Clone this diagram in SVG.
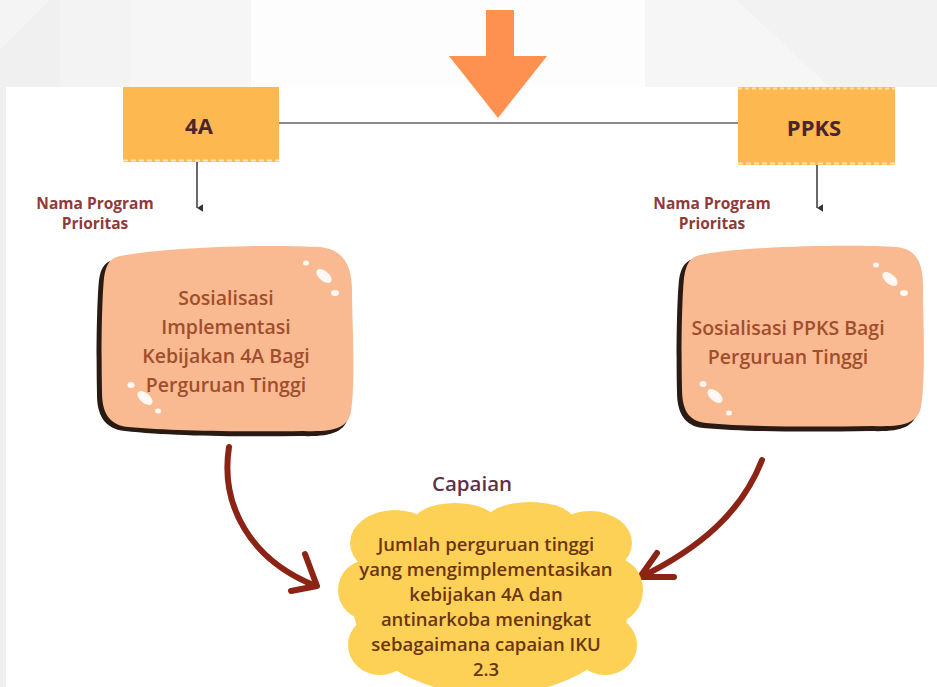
<svg xmlns="http://www.w3.org/2000/svg" width="937" height="687" viewBox="0 0 937 687">
  <defs>
    <style>
      .lbl { font-family: "Open Sans", "Liberation Sans", sans-serif; font-weight: 700; fill: #8e3b3b; font-size: 15.5px; text-anchor: middle; }
      .box { fill: #fdb84f; }
      .boxTxt { font-family: "Open Sans", "Liberation Sans", sans-serif; font-weight: 700; fill: #4b2430; font-size: 22px; text-anchor: middle; }
      .blobTxt { font-family: "Open Sans", "Liberation Sans", sans-serif; font-weight: 600; fill: #a04e2c; font-size: 19.5px; text-anchor: middle; }
      .cloudTxt { font-family: "Open Sans", "Liberation Sans", sans-serif; font-weight: 600; fill: #6a3610; font-size: 18.5px; text-anchor: middle; }
      .blob { fill: #f9ba92; }
      .shadow { fill: #2a1a14; }
      .shine { fill: #ffffff; opacity: 0.9; }
      .curve { fill: none; stroke: #8b2414; stroke-width: 6; stroke-linecap: round; stroke-linejoin: round; }
      .thin { fill: none; stroke: #444; stroke-width: 1.6; }
    </style>
    <marker id="tip" viewBox="0 0 10 10" refX="5" refY="8" markerWidth="8" markerHeight="8" orient="auto-start-reverse" markerUnits="userSpaceOnUse">
      <path d="M0,0 L10,0 L5,8 Z" fill="#333"/>
    </marker>
  </defs>

  <!-- backdrop -->
  <rect x="0" y="0" width="937" height="687" fill="#f0f0f0"/>
  <polygon points="0,0 50,0 0,50" fill="#f4f4f4"/>
  <polygon points="60,0 251,0 251,87 60,87" fill="#f3f3f3"/>
  <polygon points="130,0 251,0 251,87 130,87" fill="#f6f6f6"/>
  <rect x="251" y="0" width="394" height="87" fill="#fdfdfd"/>
  <polygon points="645,0 737,0 830,87 645,87" fill="#f6f6f6"/>
  <polygon points="737,0 937,0 937,87 830,87" fill="#f2f2f2"/>
  <rect x="6" y="87" width="931" height="600" fill="#ffffff"/>

  <!-- big orange arrow at the top -->
  <g id="topArrow">
    <polygon points="486,10 514,10 514,56 547,56 498,118 449,56 486,56" fill="#fe9150"/>
  </g>

  <!-- connectors -->
  <g id="connectors">
    <line x1="279" y1="123" x2="738" y2="123" stroke="#8a8a8a" stroke-width="2"/>
    <line class="thin" x1="197" y1="162" x2="197" y2="208" marker-end="url(#tip)"/>
    <line class="thin" x1="817" y1="165" x2="817" y2="208" marker-end="url(#tip)"/>
    <path class="curve" d="M229,447 C220,505 250,560 316,586"/>
    <path class="curve" d="M305,554 L317,586 L291,591"/>
    <path class="curve" d="M762,460 C742,512 700,548 641,577"/>
    <path class="curve" d="M657,553 L640,577 L674,577"/>
  </g>

  <!-- source boxes -->
  <g id="box4A">
    <rect class="box" x="123" y="87" width="156" height="75"/>
    <line x1="123" y1="160.5" x2="279" y2="160.5" stroke="#fde7b4" stroke-width="2" stroke-dasharray="5 3"/>
    <text class="boxTxt" x="199" y="134">4A</text>
  </g>
  <g id="boxPPKS">
    <rect class="box" x="738" y="87" width="157" height="78"/>
    <line x1="738" y1="88.5" x2="895" y2="88.5" stroke="#fde0a0" stroke-width="2" stroke-dasharray="4 3"/>
    <line x1="738" y1="163.5" x2="895" y2="163.5" stroke="#fde7b4" stroke-width="2" stroke-dasharray="5 3"/>
    <text class="boxTxt" x="814" y="136">PPKS</text>
  </g>

  <!-- labels -->
  <g id="labelLeft">
    <text class="lbl" x="95" y="209">Nama Program</text>
    <text class="lbl" x="95" y="229">Prioritas</text>
  </g>
  <g id="labelRight">
    <text class="lbl" x="712" y="209">Nama Program</text>
    <text class="lbl" x="712" y="229">Prioritas</text>
  </g>

  <!-- program blobs -->
  <g id="programLeft">
    <path class="shadow" d="M117,259 C160,249 270,246 318,249 C345,252 351,272 350,300 C351,340 353,385 349,415 C345,433 330,437 300,436 C240,437 170,436 125,431 C104,429 97,414 97,395 C96,350 97,300 99,280 C101,266 106,261 117,259 Z"/>
    <path class="blob" d="M120,256 C165,247 272,244 320,247 C347,250 353,270 352,298 C353,338 355,383 351,412 C347,429 333,432 303,431 C243,432 173,431 128,427 C108,425 102,411 102,392 C101,348 102,298 104,278 C106,264 110,258 120,256 Z"/>
    <ellipse class="shine" cx="324" cy="276" rx="9" ry="5" transform="rotate(40 324 276)"/>
    <ellipse class="shine" cx="335" cy="293" rx="4" ry="3"/>
    <ellipse class="shine" cx="306" cy="263" rx="3" ry="2.5"/>
    <ellipse class="shine" cx="145" cy="398" rx="9" ry="5" transform="rotate(40 145 398)"/>
    <ellipse class="shine" cx="131" cy="385" rx="3.5" ry="3"/>
    <ellipse class="shine" cx="158" cy="411" rx="3" ry="2.5"/>
    <text class="blobTxt" x="226" y="305">Sosialisasi</text>
    <text class="blobTxt" x="226" y="334">Implementasi</text>
    <text class="blobTxt" x="226" y="363">Kebijakan 4A Bagi</text>
    <text class="blobTxt" x="226" y="392">Perguruan Tinggi</text>
  </g>
  <g id="programRight">
    <path class="shadow" d="M697,258 C740,249 850,247 895,250 C918,253 921,272 920,300 C921,340 922,385 918,410 C914,428 900,432 870,431 C810,432 745,432 703,428 C684,426 677,412 677,392 C676,350 677,300 679,280 C681,266 686,260 697,258 Z"/>
    <path class="blob" d="M700,255 C743,246 852,244 897,247 C921,250 924,269 923,297 C924,337 925,382 921,407 C917,424 903,427 873,426 C813,427 748,427 706,423 C687,421 682,408 682,388 C681,347 682,298 684,278 C686,264 690,257 700,255 Z"/>
    <ellipse class="shine" cx="890" cy="279" rx="9" ry="5" transform="rotate(40 890 279)"/>
    <ellipse class="shine" cx="904" cy="293" rx="4" ry="3"/>
    <ellipse class="shine" cx="876" cy="265" rx="3" ry="2.5"/>
    <ellipse class="shine" cx="715" cy="396" rx="9" ry="5" transform="rotate(40 715 396)"/>
    <ellipse class="shine" cx="703" cy="384" rx="3.5" ry="3"/>
    <ellipse class="shine" cx="729" cy="413" rx="3" ry="2.5"/>
    <text class="blobTxt" x="788" y="335">Sosialisasi PPKS Bagi</text>
    <text class="blobTxt" x="788" y="364">Perguruan Tinggi</text>
  </g>

  <!-- outcome cloud -->
  <g id="outcome">
    <text x="472" y="491" font-family="'Open Sans', 'Liberation Sans', sans-serif" font-weight="600" font-size="20.5" fill="#5b3346" text-anchor="middle">Capaian</text>
    <g fill="#fdd155">
      <ellipse cx="491" cy="605" rx="138" ry="90"/>
      <ellipse cx="395" cy="543" rx="45" ry="33"/>
      <ellipse cx="455" cy="523" rx="42" ry="20"/>
      <ellipse cx="530" cy="522" rx="45" ry="20"/>
      <ellipse cx="590" cy="543" rx="42" ry="32"/>
      <ellipse cx="368" cy="590" rx="30" ry="30"/>
      <ellipse cx="615" cy="590" rx="28" ry="32"/>
      <ellipse cx="380" cy="645" rx="32" ry="30"/>
      <ellipse cx="605" cy="645" rx="32" ry="30"/>
    </g>
    <text class="cloudTxt" x="486" y="551">Jumlah perguruan tinggi</text>
    <text class="cloudTxt" x="486" y="576">yang mengimplementasikan</text>
    <text class="cloudTxt" x="486" y="601">kebijakan 4A dan</text>
    <text class="cloudTxt" x="486" y="626">antinarkoba meningkat</text>
    <text class="cloudTxt" x="486" y="651">sebagaimana capaian IKU</text>
    <text class="cloudTxt" x="486" y="676">2.3</text>
  </g>
</svg>
